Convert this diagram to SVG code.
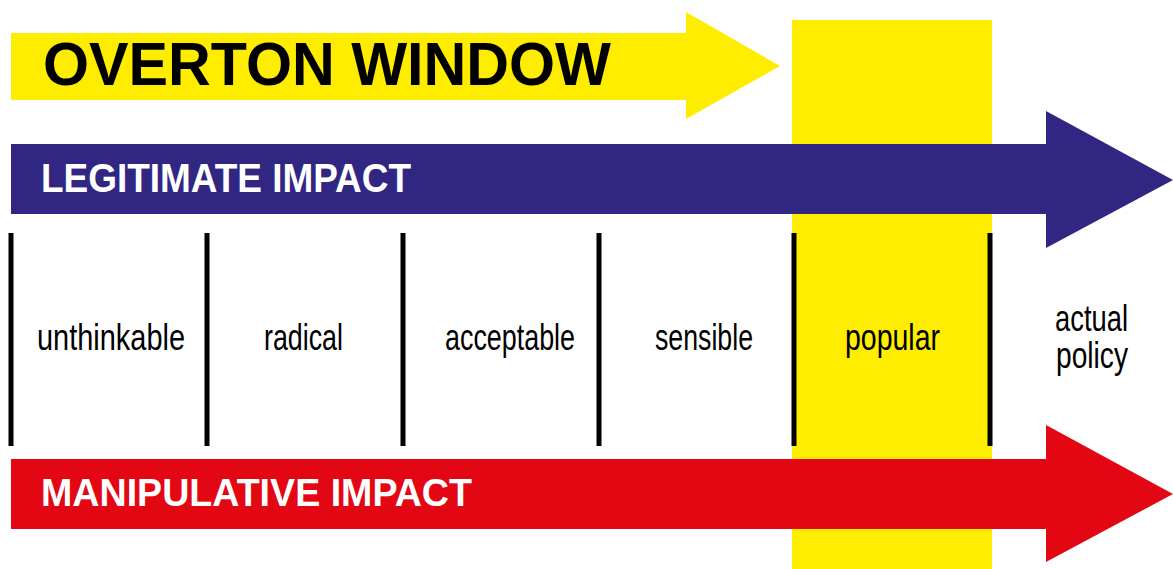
<svg xmlns="http://www.w3.org/2000/svg" width="1173" height="569" viewBox="0 0 1173 569">
<style>
.bg{fill:#ffffff}
.yel{fill:#FFED00}
.blue{fill:#312783}
.red{fill:#E30613}
.tick{stroke:#000;stroke-width:5;fill:none}
.ttl{font-family:"Liberation Sans",Arial,sans-serif;font-weight:bold;fill:#000}
.bar{font-family:"Liberation Sans",Arial,sans-serif;font-weight:bold;fill:#fff}
.lbl{font-family:"Liberation Sans",Arial,sans-serif;font-size:37px;fill:#000}
</style>
<rect class="bg" x="0" y="0" width="1173" height="569"/>
<g id="window-band">
<rect class="yel" x="792" y="20" width="200" height="549"/>
</g>
<g id="title-arrow">
<polygon class="yel" points="11,33 686,33 686,12 780,66 686,119 686,100 11,100"/>
<text class="ttl" x="43" y="85" font-size="62" textLength="568" lengthAdjust="spacingAndGlyphs">OVERTON WINDOW</text>
</g>
<g id="legitimate-arrow">
<polygon class="blue" points="11,144 1046,144 1046,111 1173,180 1046,248 1046,214 11,214"/>
<text class="bar" x="41" y="192" font-size="40" textLength="370" lengthAdjust="spacingAndGlyphs">LEGITIMATE IMPACT</text>
</g>
<g id="manipulative-arrow">
<polygon class="red" points="11,459 1046,459 1046,425 1173,494 1046,562 1046,529 11,529"/>
<text class="bar" x="41" y="506" font-size="39" textLength="431" lengthAdjust="spacingAndGlyphs">MANIPULATIVE IMPACT</text>
</g>
<g id="connectors">
<line class="tick" x1="11" y1="233" x2="11" y2="446"/>
<line class="tick" x1="207" y1="233" x2="207" y2="446"/>
<line class="tick" x1="403" y1="233" x2="403" y2="446"/>
<line class="tick" x1="599" y1="233" x2="599" y2="446"/>
<line class="tick" x1="794" y1="233" x2="794" y2="446"/>
<line class="tick" x1="990" y1="233" x2="990" y2="446"/>
</g>
<g id="unthinkable"><text class="lbl" x="37" y="350" textLength="148" lengthAdjust="spacingAndGlyphs">unthinkable</text></g>
<g id="radical"><text class="lbl" x="264" y="350" textLength="79" lengthAdjust="spacingAndGlyphs">radical</text></g>
<g id="acceptable"><text class="lbl" x="445" y="350" textLength="130" lengthAdjust="spacingAndGlyphs">acceptable</text></g>
<g id="sensible"><text class="lbl" x="655" y="350" textLength="98" lengthAdjust="spacingAndGlyphs">sensible</text></g>
<g id="popular"><text class="lbl" x="845" y="350" textLength="95" lengthAdjust="spacingAndGlyphs">popular</text></g>
<g id="actual-policy">
<text class="lbl" x="1055" y="331" textLength="73" lengthAdjust="spacingAndGlyphs">actual</text>
<text class="lbl" x="1056" y="368" textLength="72" lengthAdjust="spacingAndGlyphs">policy</text>
</g>
</svg>
